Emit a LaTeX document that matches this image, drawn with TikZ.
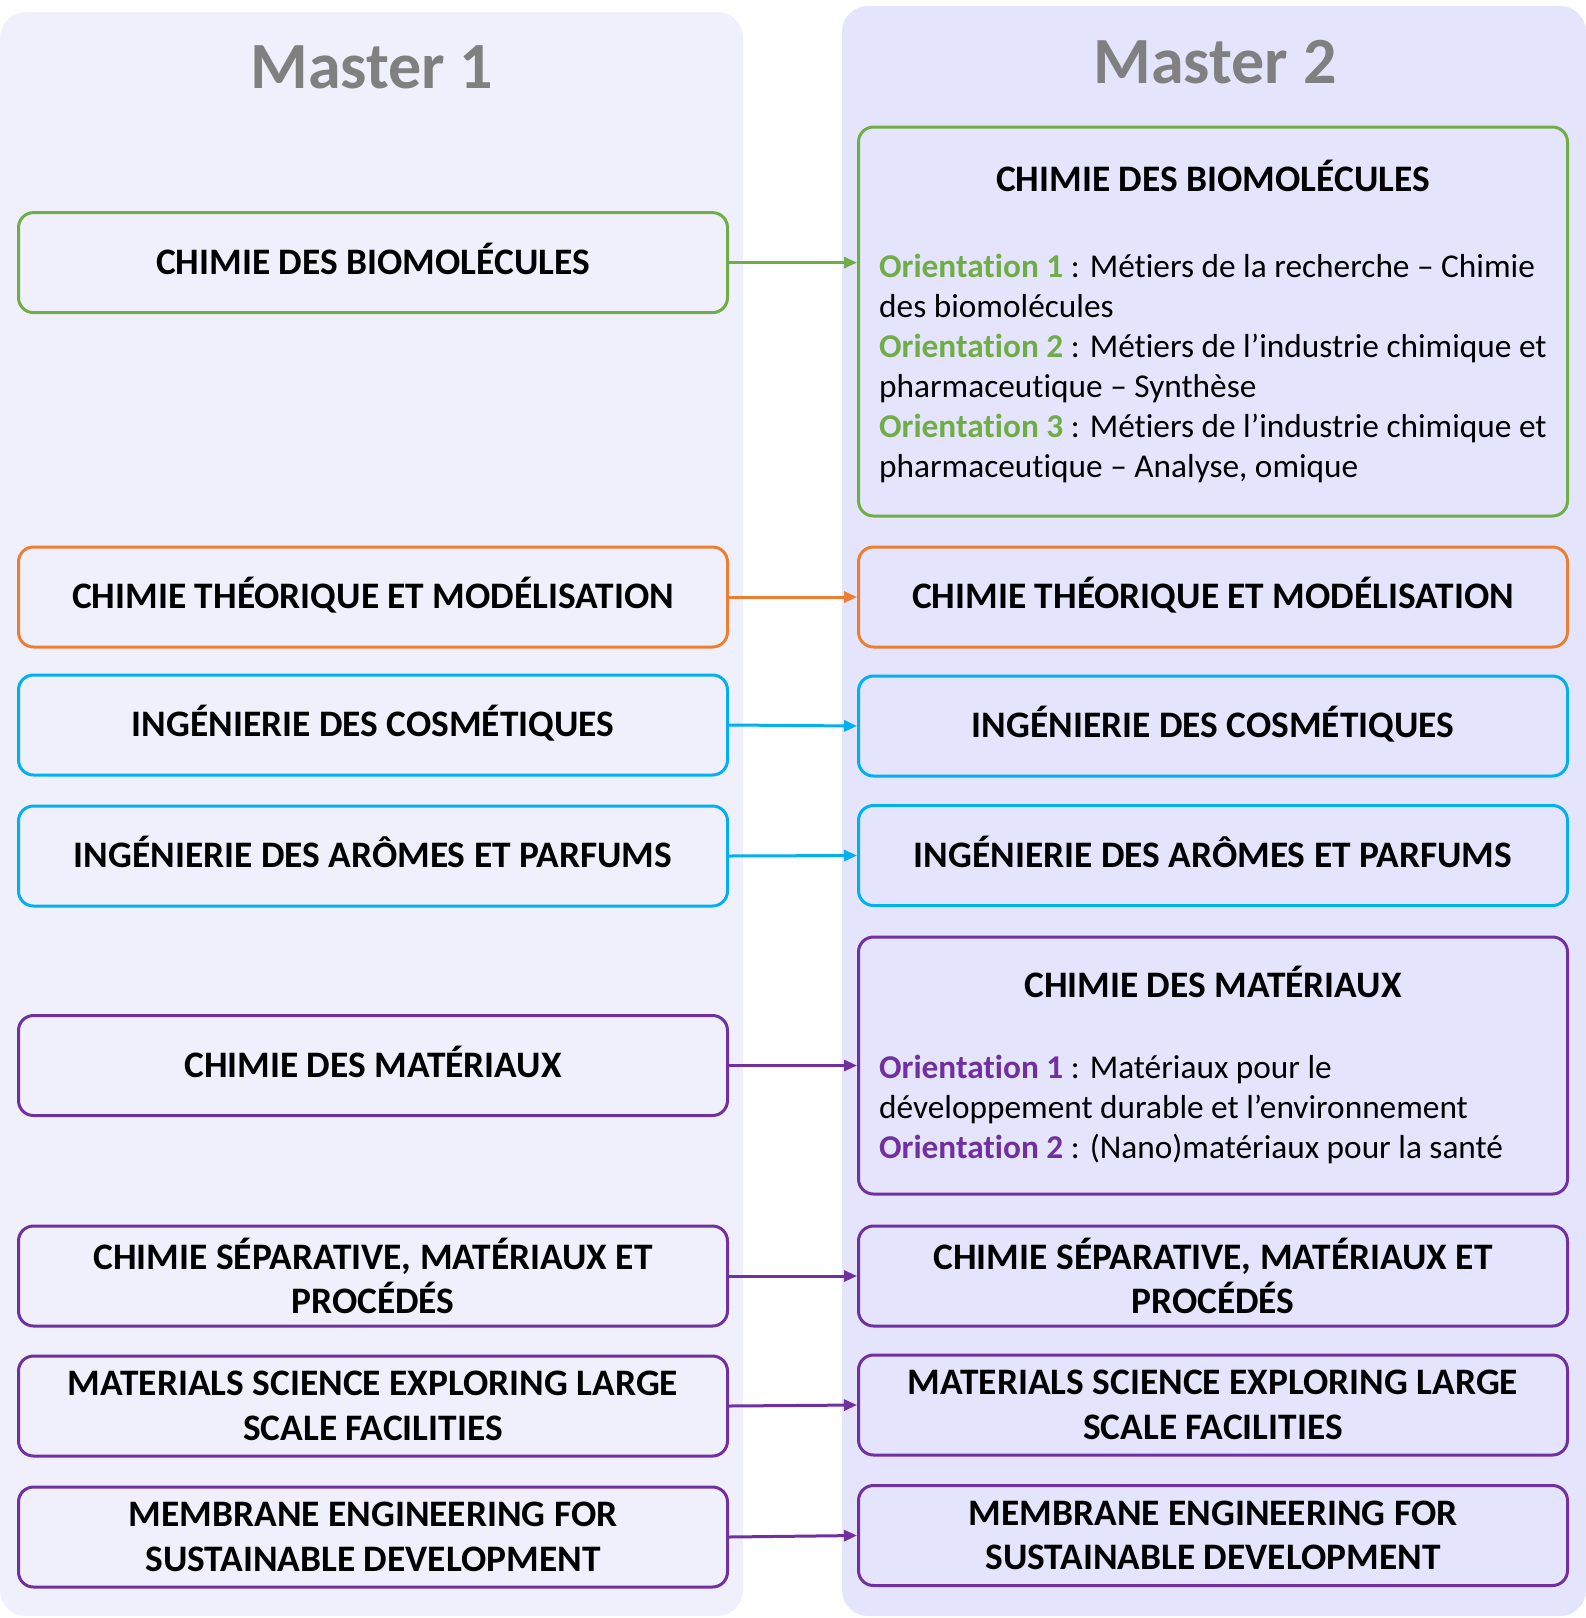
\documentclass[tikz,border=0pt]{standalone}
\usepackage{fontspec}
\setmainfont{Carlito}[Ligatures=NoCommon]
\usetikzlibrary{arrows.meta}
\definecolor{cgreen}{RGB}{112,173,71}
\definecolor{corange}{RGB}{237,125,49}
\definecolor{cblue}{RGB}{0,176,240}
\definecolor{cpurple}{RGB}{112,48,160}
\definecolor{panelA}{RGB}{240,240,252}
\definecolor{panelB}{RGB}{228,228,252}
\definecolor{titlegray}{RGB}{128,128,128}
\newcommand{\headfont}{\bfseries\fontsize{37.4}{44.5}\selectfont}
\newcommand{\bodyfont}{\fontsize{33.3}{40}\selectfont}
\newcommand{\titlefont}{\bfseries\fontsize{66}{78}\selectfont}
\begin{document}
\begin{tikzpicture}[x=1pt,y=-1pt,
  box/.style={draw=#1, line width=3pt, rounded corners=15pt, minimum width=709pt,
    minimum height=100pt, inner sep=0pt, font=\headfont, align=center},
  one/.style={text height=23.6pt, text depth=0pt},
  conn/.style={draw=#1, line width=3pt, -{Triangle[length=13pt,width=11pt]}},
  panel/.style={fill=#1, draw=none, rounded corners=26pt},
  title/.style={font=\titlefont, text=titlegray, anchor=base},
  head/.style={font=\headfont, anchor=base},
  body/.style={font=\bodyfont, anchor=base west, inner sep=0pt}]
\useasboundingbox (0,0) rectangle (1586,1618);
\fill[white] (0,0) rectangle (1586,1618);
% panels
\path[panel=panelA] (0,12) rectangle (743,1616);
\path[panel=panelB] (842,6) rectangle (1586,1616);
\node[title] (t1) at (372,88.5) {Master 1};
\node[title] (t2) at (1215,83.5) {Master 2};
% left boxes
\node[box=cgreen, one] (l1) at (373,262.6) {CHIMIE DES BIOMOLÉCULES};
\node[box=corange, one] (l2) at (373,597) {CHIMIE THÉORIQUE ET MODÉLISATION};
\node[box=cblue, one] (l3) at (373,725) {INGÉNIERIE DES COSMÉTIQUES};
\node[box=cblue, one] (l4) at (373,856) {INGÉNIERIE DES ARÔMES ET PARFUMS};
\node[box=cpurple, one] (l5) at (373,1065.5) {CHIMIE DES MATÉRIAUX};
\node[box=cpurple] (l6) at (373,1276) {CHIMIE SÉPARATIVE, MATÉRIAUX ET\\PROCÉDÉS};
\node[box=cpurple] (l7) at (373,1406) {MATERIALS SCIENCE EXPLORING LARGE\\SCALE FACILITIES};
\node[box=cpurple] (l8) at (373,1537) {MEMBRANE ENGINEERING FOR\\SUSTAINABLE DEVELOPMENT};
% right boxes
\node[box=cgreen, minimum height=389pt] (r1) at (1213,321.5) {};
\node[head] (r1h) at (1213,191.5) {CHIMIE DES BIOMOLÉCULES};
\node[body] (r1a) at (879,277) {\textbf{\textcolor{cgreen}{Orientation 1}} : Métiers de la recherche – Chimie};
\node[body] (r1b) at (879,317) {des biomolécules};
\node[body] (r1c) at (879,357) {\textbf{\textcolor{cgreen}{Orientation 2}} : Métiers de l’industrie chimique et};
\node[body] (r1d) at (879,397) {pharmaceutique – Synthèse};
\node[body] (r1e) at (879,437) {\textbf{\textcolor{cgreen}{Orientation 3}} : Métiers de l’industrie chimique et};
\node[body] (r1f) at (879,477) {pharmaceutique – Analyse, omique};
\node[box=corange, one] (r2) at (1213,597) {CHIMIE THÉORIQUE ET MODÉLISATION};
\node[box=cblue, one] (r3) at (1213,726) {INGÉNIERIE DES COSMÉTIQUES};
\node[box=cblue, one] (r4) at (1213,855.5) {INGÉNIERIE DES ARÔMES ET PARFUMS};
\node[box=cpurple, minimum height=257pt] (r5) at (1213,1065.5) {};
\node[head] (r5h) at (1213,997) {CHIMIE DES MATÉRIAUX};
\node[body] (r5a) at (879,1078) {\textbf{\textcolor{cpurple}{Orientation 1}} : Matériaux pour le};
\node[body] (r5b) at (879,1118) {développement durable et l’environnement};
\node[body] (r5c) at (879,1158) {\textbf{\textcolor{cpurple}{Orientation 2}} : (Nano)matériaux pour la santé};
\node[box=cpurple] (r6) at (1213,1276) {CHIMIE SÉPARATIVE, MATÉRIAUX ET\\PROCÉDÉS};
\node[box=cpurple] (r7) at (1213,1405) {MATERIALS SCIENCE EXPLORING LARGE\\SCALE FACILITIES};
\node[box=cpurple] (r8) at (1213,1535.5) {MEMBRANE ENGINEERING FOR\\SUSTAINABLE DEVELOPMENT};
% connectors
\draw[conn=cgreen] (l1.east) -- (l1.east -| r1.west);
\draw[conn=corange] (l2.east) -- (r2.west);
\draw[conn=cblue] (l3.east) -- (r3.west);
\draw[conn=cblue] (l4.east) -- (r4.west);
\draw[conn=cpurple] (l5.east) -- (r5.west);
\draw[conn=cpurple] (l6.east) -- (r6.west);
\draw[conn=cpurple] (l7.east) -- (r7.west);
\draw[conn=cpurple] (l8.east) -- (r8.west);
\end{tikzpicture}
\end{document}
